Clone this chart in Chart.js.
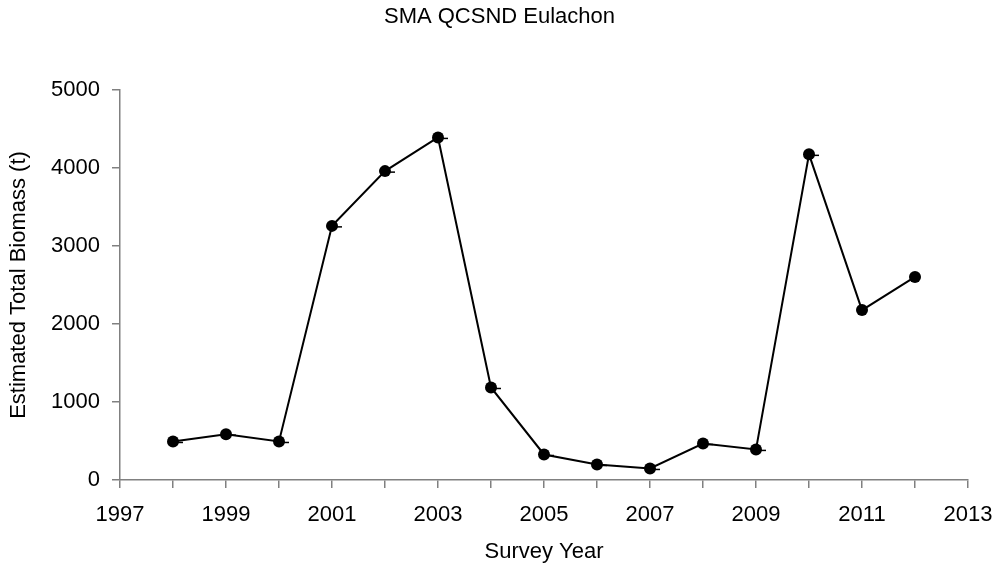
<!DOCTYPE html>
<html><head><meta charset="utf-8">
<script src="https://cdn.jsdelivr.net/npm/chart.js@4"></script>
<style>html,body{margin:0;padding:0;background:#fff}#wrap{width:999px;height:569px}</style>
</head><body><div id="wrap"><canvas id="c" width="999" height="569"></canvas></div>
<script>
const years = [1998,1999,2000,2001,2002,2003,2004,2005,2006,2007,2008,2009,2010,2011,2012];
const biomass = [494,588,494,3258,3960,4392,1186,327,199,148,468,392,4175,2178,2604];
const hasDash = [true,true,true,true,true,true,true,true,true,true,true,true,true,false,false];
const xTickMarks = [1997,1998,1999,2000,2001,2002,2003,2004,2005,2006,2007,2008,2009,2010,2011,2012,2013];
const xTickLabels = [1997,1999,2001,2003,2005,2007,2009,2011,2013];
const yTicks = [0,1000,2000,3000,4000,5000];

const FONT = "'Liberation Sans', Arial, sans-serif";
const dashPlugin = {
  id:'dash',
  afterDatasetsDraw(chart){
    const meta = chart.getDatasetMeta(0), ctx = chart.ctx;
    ctx.save(); ctx.strokeStyle='#000'; ctx.lineWidth=1.5;
    meta.data.forEach((p,i)=>{ if(!hasDash[i]) return;
      ctx.beginPath(); ctx.moveTo(p.x+2,p.y+1); ctx.lineTo(p.x+10,p.y+1); ctx.stroke(); });
    ctx.restore();
  }
};
new Chart(document.getElementById('c'),{
  type:'line',
  data:{datasets:[{data:years.map((y,i)=>({x:y,y:biomass[i]})),borderColor:'#000',borderWidth:2,
    pointRadius:6,pointBackgroundColor:'#000',pointBorderColor:'#000',pointBorderWidth:0,tension:0,fill:false}]},
  options:{responsive:false,animation:false,devicePixelRatio:1,
    layout:{padding:{left:0,right:0,top:0,bottom:0}},
    plugins:{legend:{display:false},tooltip:{enabled:false},
      title:{display:true,text:'SMA QCSND Eulachon',color:'#000',font:{family:FONT,size:22,weight:'normal'},padding:{top:4,bottom:59.6}}},
    scales:{
      x:{type:'linear',min:1997,max:2013,
        afterBuildTicks(s){s.ticks=xTickMarks.map(v=>({value:v}));},
        afterFit(s){s.height=89;s.paddingLeft=0;s.paddingRight=31;},
        grid:{drawOnChartArea:false,drawTicks:true,tickLength:8,color:'#808080',lineWidth:1.5},
        border:{color:'#808080',width:1.5},
        ticks:{color:'#000',font:{family:FONT,size:22},padding:14,maxRotation:0,autoSkip:false,
          callback:v=>xTickLabels.includes(v)?String(v):''},
        title:{display:true,text:'Survey Year',color:'#000',font:{family:FONT,size:22},padding:{top:4,bottom:4}}},
      y:{min:0,max:5000,
        afterBuildTicks(s){s.ticks=yTicks.map(v=>({value:v}));},
        afterFit(s){s.width=120;},
        grid:{drawOnChartArea:false,drawTicks:true,tickLength:8,color:'#808080',lineWidth:1.5},
        border:{color:'#808080',width:1.5},
        ticks:{color:'#000',font:{family:FONT,size:22},padding:12,callback:v=>String(v)},
        title:{display:true,text:'Estimated Total Biomass (t)',color:'#000',font:{family:FONT,size:22},padding:{top:6,bottom:0}}}
    }},
  plugins:[dashPlugin]
});
</script></body></html>
